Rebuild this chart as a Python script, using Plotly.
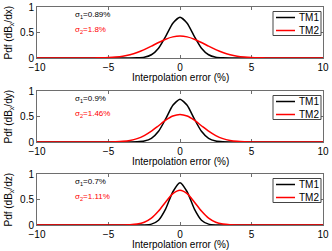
import plotly.graph_objects as go

# ---- data ----
x_vals = [-10, -6, -5.5, -5, -4.5, -4, -3.5, -3, -2.5, -2, -1.5, -1, -0.5, 0,
          0.5, 1, 1.5, 2, 2.5, 3, 3.5, 4, 4.5, 5, 5.5, 6, 10]

tm1_dx = [0, 0, 0, 0, 0, 0, 0.0004, 0.0027, 0.0155, 0.064, 0.193, 0.426, 0.683, 0.80,
          0.683, 0.426, 0.193, 0.064, 0.0155, 0.0027, 0.0004, 0, 0, 0, 0, 0, 0]
tm2_dx = [0, 0.0017, 0.004, 0.009, 0.019, 0.036, 0.065, 0.107, 0.164, 0.232, 0.304, 0.369, 0.414, 0.43,
          0.414, 0.369, 0.304, 0.232, 0.164, 0.107, 0.065, 0.036, 0.019, 0.009, 0.004, 0.0017, 0]

tm1_dy = [0, 0, 0, 0, 0, 0, 0.0004, 0.0032, 0.0177, 0.071, 0.2095, 0.453, 0.720, 0.84,
          0.720, 0.453, 0.2095, 0.071, 0.0177, 0.0032, 0.0004, 0, 0, 0, 0, 0, 0]
tm2_dy = [0, 0, 0.0004, 0.0015, 0.0047, 0.0127, 0.0305, 0.0654, 0.1247, 0.2113, 0.3186, 0.427, 0.509, 0.54,
          0.509, 0.427, 0.3186, 0.2113, 0.1247, 0.0654, 0.0305, 0.0127, 0.0047, 0.0015, 0.0004, 0, 0]

tm1_dz = [0, 0, 0, 0, 0, 0, 0, 0.0001, 0.002, 0.0175, 0.0948, 0.316, 0.652, 0.83,
          0.652, 0.316, 0.0948, 0.0175, 0.002, 0.0001, 0, 0, 0, 0, 0, 0, 0]
tm2_dz = [0, 0, 0, 0, 0.0002, 0.001, 0.0047, 0.0176, 0.0538, 0.134, 0.273, 0.453, 0.614, 0.68,
          0.614, 0.453, 0.273, 0.134, 0.0538, 0.0176, 0.0047, 0.001, 0.0002, 0, 0, 0, 0]

series_names = ["TM1", "TM2"]
series_colors = ["black", "#ff0000"]
y_titles = ["Pdf (dB<sub>x</sub>/dx)", "Pdf (dB<sub>x</sub>/dy)", "Pdf (dB<sub>x</sub>/dz)"]
sigma1_labels = ["σ<sub>1</sub>=0.89%", "σ<sub>1</sub>=0.9%", "σ<sub>1</sub>=0.7%"]
sigma2_labels = ["σ<sub>2</sub>=1.8%", "σ<sub>2</sub>=1.46%", "σ<sub>2</sub>=1.11%"]
x_ticks = [-10, -5, 0, 5, 10]
x_ticktext = ["\u221210", "\u22125", "0", "5", "10"]
y_ticks = [0, 0.5, 1]
y_ticktext = ["0", "0.5", "1"]
x_title = "Interpolation error (%)"

panels = [(tm1_dx, tm2_dx), (tm1_dy, tm2_dy), (tm1_dz, tm2_dz)]

# ---- layout geometry ----
W, H = 332, 251
ml, mr, mt, mb = 37, 9, 7, 26
pw = W - ml - mr
ph = H - mt - mb
tops_px = [7, 91, 174]
panel_h = 51

FONT = "Liberation Sans, Arial, sans-serif"
AX = "#6e6e6e"

fig = go.Figure()
layout = dict(
    width=W, height=H,
    margin=dict(l=ml, r=mr, t=mt, b=mb, pad=0, autoexpand=False),
    paper_bgcolor="white", plot_bgcolor="white",
    font=dict(family=FONT, size=10, color="black"),
    showlegend=False,
    annotations=[], shapes=[],
)

# legend box geometry in px relative to panel
lg_left, lg_right = 273, 321
lg_top_off, lg_h = 4.5, 24

for i, (s1, s2) in enumerate(panels):
    n = "" if i == 0 else str(i + 1)
    xa, ya = "x" + n, "y" + n
    top = tops_px[i]
    bot = top + panel_h
    d0 = (H - mb - bot) / ph
    d1 = (H - mb - top) / ph
    for vals, name, col in zip((s1, s2), series_names, series_colors):
        fig.add_trace(go.Scatter(
            x=x_vals, y=vals, mode="lines", name=name,
            line=dict(color=col, width=1.5, shape="spline", smoothing=0.6),
            xaxis=xa, yaxis=ya, showlegend=False, cliponaxis=False,
        ))
    layout["xaxis" + n] = dict(
        domain=[0, 1], anchor=ya, range=[-10, 10],
        tickvals=x_ticks, ticktext=x_ticktext,
        ticks="inside", ticklen=3, tickcolor=AX, tickwidth=1,
        showline=True, linecolor=AX, linewidth=1, mirror="ticks",
        showgrid=False, zeroline=False, layer="below traces",
        tickfont=dict(size=10, color="black"), automargin=False,
    )
    layout["yaxis" + n] = dict(
        domain=[d0, d1], anchor=xa, range=[0, 1],
        tickvals=y_ticks, ticktext=y_ticktext,
        ticks="inside", ticklen=3, tickcolor=AX, tickwidth=1,
        showline=True, linecolor=AX, linewidth=1, mirror="ticks",
        showgrid=False, zeroline=False, layer="below traces",
        tickfont=dict(size=10, color="black"), automargin=False,
    )
    # y axis title
    layout["annotations"].append(dict(
        text=y_titles[i], textangle=-90, showarrow=False,
        xref="paper", yref="paper",
        x=(8 - ml) / pw, y=(d0 + d1) / 2,
        xanchor="center", yanchor="middle", font=dict(size=10, color="black"),
    ))
    # x axis title
    layout["annotations"].append(dict(
        text=x_title, showarrow=False,
        xref="paper", yref="paper",
        x=0.5, y=d0 - 19 / ph,
        xanchor="center", yanchor="middle", font=dict(size=10, color="black"),
    ))
    # sigma labels
    layout["annotations"].append(dict(
        text=sigma1_labels[i], showarrow=False,
        xref=xa + " domain", yref=ya + " domain",
        x=(73 - ml) / pw, y=1 - 8 / panel_h,
        xanchor="left", yanchor="middle", font=dict(size=8, color="black"),
    ))
    layout["annotations"].append(dict(
        text=sigma2_labels[i], showarrow=False,
        xref=xa + " domain", yref=ya + " domain",
        x=(73 - ml) / pw, y=1 - 23 / panel_h,
        xanchor="left", yanchor="middle", font=dict(size=8, color="#ff0000"),
    ))
    # legend box (drawn by hand to match the compact MATLAB legend)
    bx0 = (lg_left - ml) / pw
    bx1 = (lg_right - ml) / pw
    by1 = 1 - lg_top_off / panel_h
    by0 = 1 - (lg_top_off + lg_h) / panel_h
    layout["shapes"].append(dict(
        type="rect", xref=xa + " domain", yref=ya + " domain",
        x0=bx0, x1=bx1, y0=by0, y1=by1,
        line=dict(color="#444", width=1), fillcolor="white", layer="above",
    ))
    for k, (name, col) in enumerate(zip(series_names, series_colors)):
        yy = 1 - (lg_top_off + 6 + 13 * k) / panel_h
        layout["shapes"].append(dict(
            type="line", xref=xa + " domain", yref=ya + " domain",
            x0=(276 - ml) / pw, x1=(295 - ml) / pw, y0=yy, y1=yy,
            line=dict(color=col, width=1.5), layer="above",
        ))
        layout["annotations"].append(dict(
            text=name, showarrow=False,
            xref=xa + " domain", yref=ya + " domain",
            x=(297 - ml) / pw, y=yy,
            xanchor="left", yanchor="middle", font=dict(size=10, color="black"),
        ))

fig.update_layout(**layout)
fig.write_html(
    "out.html",
    config={"displayModeBar": False, "staticPlot": True},
    post_script="document.body.style.margin='0';document.body.style.padding='0';",
)
